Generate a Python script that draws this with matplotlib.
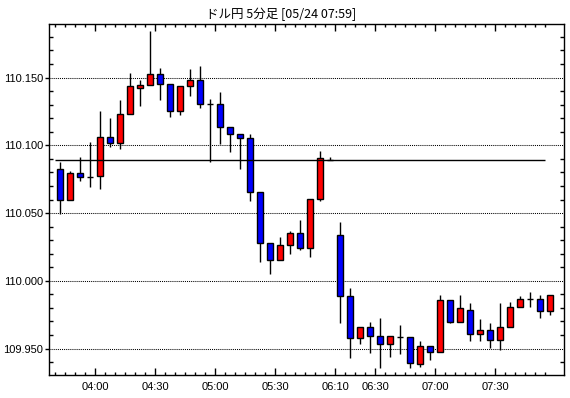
import matplotlib
matplotlib.use('Agg')
import matplotlib.pyplot as plt
from matplotlib.ticker import FixedLocator, MultipleLocator, FormatStrFormatter

# 5-minute candles (times are candle start times; 06:00 and 06:05 are missing)
times = ['03:40', '03:45', '03:50', '03:55', '04:00', '04:05', '04:10', '04:15', '04:20', '04:25',
         '04:30', '04:35', '04:40', '04:45', '04:50', '04:55', '05:00', '05:05', '05:10', '05:15',
         '05:20', '05:25', '05:30', '05:35', '05:40', '05:45', '05:50', '05:55', '06:10', '06:15',
         '06:20', '06:25', '06:30', '06:35', '06:40', '06:45', '06:50', '06:55', '07:00', '07:05',
         '07:10', '07:15', '07:20', '07:25', '07:30', '07:35', '07:40', '07:45', '07:50', '07:55']

opens = [110.0825, 110.0594, 110.0793, 110.0768, 110.0773, 110.1058, 110.1015, 110.1229, 110.1421, 110.1443,
         110.1524, 110.1450, 110.1251, 110.1435, 110.1480, 110.1303, 110.1303, 110.1133, 110.1081, 110.1052,
         110.0653, 110.0277, 110.0151, 110.0262, 110.0351, 110.0240, 110.0601, 110.0889, 110.0336, 109.9890,
         109.9576, 109.9660, 109.9590, 109.9531, 109.9587, 109.9583, 109.9384, 109.9517, 109.9472, 109.9856,
         109.9698, 109.9782, 109.9610, 109.9635, 109.9561, 109.9657, 109.9804, 109.9863, 109.9863, 109.9775]
highs = [110.0875, 110.0813, 110.0914, 110.1022, 110.1253, 110.1201, 110.1334, 110.1536, 110.1480, 110.1844,
         110.1568, 110.1450, 110.1435, 110.1561, 110.1583, 110.1340, 110.1393, 110.1137, 110.1083, 110.1081,
         110.0653, 110.0277, 110.0323, 110.0368, 110.0447, 110.0601, 110.0958, 110.0910, 110.0434, 109.9945,
         109.9657, 109.9696, 109.9725, 109.9590, 109.9674, 109.9583, 109.9553, 109.9520, 109.9895, 109.9856,
         109.9895, 109.9836, 109.9720, 109.9689, 109.9836, 109.9843, 109.9886, 109.9917, 109.9895, 109.9893]
lows = [110.0491, 110.0594, 110.0739, 110.0690, 110.0680, 110.0990, 110.0970, 110.1229, 110.1290, 110.1443,
        110.1334, 110.1211, 110.1226, 110.1362, 110.1273, 110.0875, 110.1012, 110.0953, 110.0827, 110.0591,
        110.0141, 110.0052, 110.0151, 110.0200, 110.0225, 110.0178, 110.0591, 110.0889, 109.9691, 109.9432,
        109.9531, 109.9469, 109.9359, 109.9440, 109.9462, 109.9354, 109.9362, 109.9413, 109.9472, 109.9691,
        109.9694, 109.9558, 109.9558, 109.9502, 109.9492, 109.9657, 109.9804, 109.9804, 109.9723, 109.9750]
closes = [110.0594, 110.0793, 110.0764, 110.0768, 110.1058, 110.1015, 110.1229, 110.1435, 110.1443, 110.1524,
          110.1450, 110.1251, 110.1435, 110.1480, 110.1303, 110.1303, 110.1133, 110.1081, 110.1052, 110.0653,
          110.0277, 110.0151, 110.0262, 110.0351, 110.0240, 110.0601, 110.0904, 110.0889, 109.9890, 109.9580,
          109.9657, 109.9590, 109.9531, 109.9590, 109.9587, 109.9391, 109.9517, 109.9472, 109.9856, 109.9698,
          109.9797, 109.9610, 109.9635, 109.9561, 109.9659, 109.9804, 109.9863, 109.9863, 109.9775, 109.9893]

ref_price = 110.089
tick_labels = ['04:00', '04:30', '05:00', '05:30', '06:10', '06:30', '07:00', '07:30']
title = 'ドル円 5分足 [05/24 07:59]'

fig = plt.figure(figsize=(5.7, 3.98), dpi=100)
ax = fig.add_axes([49/570, 23/398, 515/570, 351/398])

n = len(times)
idx = list(range(n))
bottoms = [min(o, c) for o, c in zip(opens, closes)]
heights = [abs(c - o) for o, c in zip(opens, closes)]
colors = []
for o, c in zip(opens, closes):
    if c > o:
        colors.append('#ff0000')
    elif c < o:
        colors.append('#0000ff')
    else:
        colors.append('black')

# wicks, then bodies
ax.vlines(idx, lows, highs, color='black', lw=1, zorder=2)
ax.bar(idx, heights, bottom=bottoms, width=0.62, color=colors,
       edgecolor='black', linewidth=1, zorder=3)

# reference line
ax.hlines(ref_price, -0.5, n - 1.5, color='black', lw=1, zorder=4)

ax.set_xlim(-1.1, n + 0.4)
ax.set_ylim(109.9305, 110.1895)

# x ticks at candle boundaries
major_pos = [times.index(t) - 0.5 for t in tick_labels]
ax.xaxis.set_major_locator(FixedLocator(major_pos))
ax.set_xticklabels(tick_labels)
ax.xaxis.set_minor_locator(FixedLocator([i - 0.5 for i in idx]))

ax.yaxis.set_major_locator(MultipleLocator(0.05))
ax.yaxis.set_minor_locator(MultipleLocator(0.01))
ax.yaxis.set_major_formatter(FormatStrFormatter('%.3f'))

ax.grid(axis='y', which='major', color='black', lw=0.75, linestyle=(0, (1, 1)), zorder=1)

ax.tick_params(axis='x', which='both', direction='in', top=True, bottom=True)
ax.tick_params(axis='x', which='major', length=5, width=1, pad=5)
ax.tick_params(axis='x', which='minor', length=2.5, width=1)
ax.tick_params(axis='y', which='major', direction='out', left=True, right=False, length=3, width=1, pad=1)
ax.tick_params(axis='y', which='minor', direction='in', left=True, right=True, length=3, width=1)
for lab in ax.get_xticklabels() + ax.get_yticklabels():
    lab.set_fontfamily('Liberation Sans')
    lab.set_fontsize(8)

for sp in ax.spines.values():
    sp.set_linewidth(1.0)

fig.text(0.493, 0.965, title, ha='center', va='center', fontsize=9,
         family=['Noto Sans CJK JP', 'DejaVu Sans'])

plt.savefig('out.png', dpi=100)
